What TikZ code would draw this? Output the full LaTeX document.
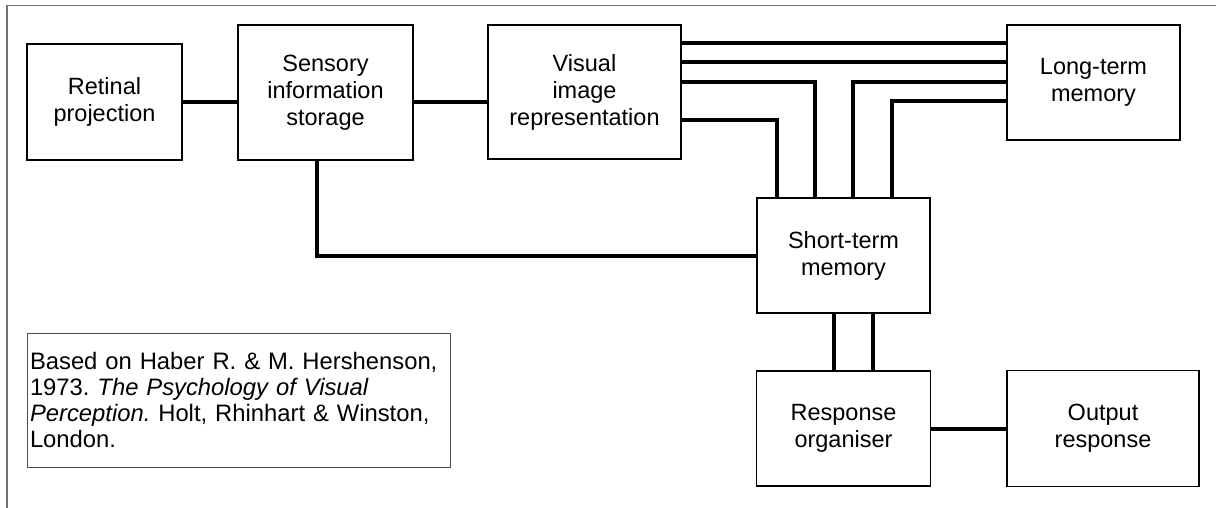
\documentclass[tikz,border=0pt]{standalone}
\usepackage{fontspec}
\setmainfont{Liberation Sans}
\usepackage{tikz}
\usetikzlibrary{positioning}
\frenchspacing

\tikzset{
  blk/.style={draw, line width=1.6pt, inner sep=0pt, align=center,
    font=\fontsize{23.5}{27}\selectfont},
  link/.style={line width=4pt},
  frame/.style={draw=black!55, line width=1.5pt}
}

\begin{document}
\begin{tikzpicture}[x=1pt, y=-1pt]
\useasboundingbox (0,0) rectangle (1216,508);
\draw[frame] (7,508) -- (7,5.5) -- (1216,5.5);

\node[blk, minimum width=155pt, minimum height=116pt] (ret) at (104.5,102) {Retinal\\projection};
\node[blk, minimum width=175pt, minimum height=135pt] (sens) at (325.5,92.5) {Sensory\\information\\storage};
\node[blk, minimum width=193pt, minimum height=134pt] (vis) at (584.5,92) {Visual\\image\\representation};
\node[blk, minimum width=173pt, minimum height=115pt] (ltm) at (1093.5,82.5) {Long-term\\memory};
\node[blk, minimum width=173pt, minimum height=115pt] (stm) at (843.5,255.5) {Short-term\\memory};
\node[blk, minimum width=174pt, minimum height=115pt] (resp) at (843.5,428.5) {Response\\organiser};
\node[blk, minimum width=192pt, minimum height=116pt] (out) at (1103,428.5) {Output\\response};
\node[draw=black!70, line width=1pt, minimum width=423pt, minimum height=134pt,
  text width=417pt, align=left, inner sep=3pt, font=\fontsize{23.8}{25.7}\selectfont]
  (cite) at (238.5,400)
  {Based on Haber R. \& M. Hershenson,\\1973. \textit{The Psychology of Visual}\\\textit{Perception.} Holt, Rhinhart \& Winston,\\London.\par\vspace{16pt}};

\draw[link]
  (ret.east) -- (ret.east -| sens.west)
  (ret.east -| sens.east) -- (ret.east -| vis.west)
  ([xshift=-8.5pt]sens.south) |- (stm.west)
  ([yshift=-19pt]vis.north east) -- ([yshift=-19pt]ltm.north west)
  ([yshift=-38pt]vis.north east) -- ([yshift=-38pt]ltm.north west)
  ([yshift=-58pt]vis.north east) -| ([xshift=-28.5pt]stm.north)
  ([yshift=-96pt]vis.north east) -| ([xshift=-66.5pt]stm.north)
  ([yshift=-58pt]ltm.north west) -| ([xshift=9.5pt]stm.north)
  ([yshift=-77pt]ltm.north west) -| ([xshift=48.5pt]stm.north)
  ([xshift=-9.5pt]stm.south) -- ([xshift=-9.5pt]resp.north)
  ([xshift=29.5pt]stm.south) -- ([xshift=29.5pt]resp.north)
  (resp.east) -- (out.west)
;
\end{tikzpicture}
\end{document}
